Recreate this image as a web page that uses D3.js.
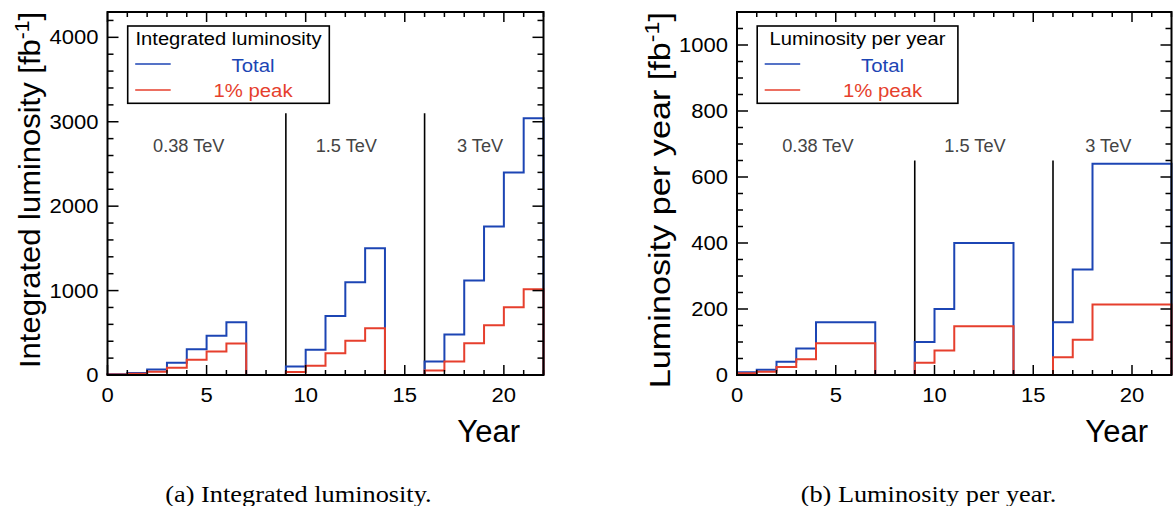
<!DOCTYPE html>
<html><head><meta charset="utf-8">
<script src="https://cdn.jsdelivr.net/npm/d3@7"></script>
<style>
body{margin:0;background:#fff}svg{display:block}
text.sans{font-family:"Liberation Sans",Arial,Helvetica,sans-serif}
text.serif{font-family:"Liberation Serif","Times New Roman",Times,serif}
</style>
</head><body>
<svg id="c" width="1173" height="506"></svg>
<script>
// ---------- data ----------
const binStart   = [0,1,2,3,4,5,6,7,8,9,10,11,12,13,14,15,16,17,18,19,20,21];
const intTotal   = [8,24,64,144,304,464,624,0,0,100,300,700,1100,1500,0,0,160,480,1120,1760,2400,3040];
const intPeak    = [5,14,38,86,182,278,374,0,0,37,111,259,407,555,0,0,54,161,375,589,803,1017];
const yearTotal  = [8,16,40,80,160,160,160,0,0,100,200,400,400,400,0,0,160,320,640,640,640,640];
const yearPeak   = [5,10,24,48,96,96,96,0,0,37,74,148,148,148,0,0,54,107,214,214,214,214];
const stageNames = ["0.38 TeV","1.5 TeV","3 TeV"];
const stageLabelX = [4.1, 12.05, 18.8];
const stageSepX  = [9, 16];
const xTickVals  = [0,5,10,15,20];
const yTicksA    = [0,1000,2000,3000,4000];
const yTicksB    = [0,200,400,600,800,1000];
const seriesNames = ["Total","1% peak"];

// ---------- style ----------
const BLUE = "#1c45b4", RED = "#e63f2d";
const svg = d3.select("#c");

function txt(g, o) {
  const t = g.append("text")
    .attr("class", o.serif ? "serif" : "sans")
    .attr("transform", `translate(${o.x},${o.y})` + (o.rot ? ` rotate(${o.rot})` : "") + ` scale(${o.k || 1},1)`)
    .attr("text-anchor", o.anchor || "start")
    .style("font-size", o.size + "px")
    .attr("fill", o.fill || "#000");
  if (o.text !== undefined) t.text(o.text);
  return t;
}

const panels = [
  { x0: 107.5, x1: 543.5, yMax: 4300, yMinor: 200, yTicks: yTicksA,
    total: intTotal, peak: intPeak, sepTop: 3100,
    legendTitle: "Integrated luminosity", legendW: 201.6,
    yTitle: "Integrated luminosity", titleX: 40, titleK: 1.05,
    caption: "(a) Integrated luminosity.", captionX: 298.5 },
  { x0: 737, x1: 1171.5, yMax: 1100, yMinor: 50, yTicks: yTicksB,
    total: yearTotal, peak: yearPeak, sepTop: 650,
    legendTitle: "Luminosity per year", legendW: 200.7,
    yTitle: "Luminosity per year", titleX: 669.5, titleK: 1.16,
    caption: "(b) Luminosity per year.", captionX: 928.5 }
];

const TOP = 12, BOT = 375;

panels.forEach(p => {
  const g = svg.append("g");
  const x = d3.scaleLinear().domain([0, 22]).range([p.x0, p.x1]);
  const y = d3.scaleLinear().domain([0, p.yMax]).range([BOT, TOP]);

  stageSepX.forEach(s => {
    g.append("line").attr("x1", x(s)).attr("x2", x(s)).attr("y1", y(p.sepTop)).attr("y2", y(0))
      .attr("stroke", "#000").attr("stroke-width", 1.6);
  });

  const line = d3.line().x(d => x(d[0])).y(d => y(d[1])).curve(d3.curveStepAfter);
  [[p.total, BLUE], [p.peak, RED]].forEach(([vals, col]) => {
    const pts = [[binStart[0], 0]];
    binStart.forEach((b, i) => pts.push([b, vals[i]]));
    pts.push([22, vals[vals.length - 1]]);
    pts.push([22, 0]);
    g.append("path").attr("d", line(pts)).attr("fill", "none")
      .attr("stroke", col).attr("stroke-width", 2).attr("stroke-linejoin", "miter");
  });

  stageNames.forEach((n, i) => {
    txt(g, { x: x(stageLabelX[i]), y: 151.7, text: n, size: 17.5, k: 1.04, anchor: "middle", fill: "#444" });
  });

  const tk = (x1, y1, x2, y2) => g.append("line").attr("x1", x1).attr("y1", y1).attr("x2", x2).attr("y2", y2)
      .attr("stroke", "#000").attr("stroke-width", 1.5);
  d3.range(0, p.yMax + 1e-6, p.yMinor).forEach(v => {
    const major = p.yTicks.includes(v);
    const L = major ? 11 : 6;
    tk(p.x0, y(v), p.x0 + L, y(v));
    tk(p.x1, y(v), p.x1 - L, y(v));
  });
  d3.range(0, 23, 1).forEach(v => {
    const major = xTickVals.includes(v);
    const L = major ? 10 : 5;
    tk(x(v), BOT, x(v), BOT - L);
    tk(x(v), TOP, x(v), TOP + L);
  });

  g.append("rect").attr("x", p.x0).attr("y", TOP).attr("width", p.x1 - p.x0).attr("height", BOT - TOP)
    .attr("fill", "none").attr("stroke", "#000").attr("stroke-width", 2);

  p.yTicks.forEach(v => {
    txt(g, { x: p.x0 - 9, y: y(v) + 7, text: String(v), size: 19.5, k: 1.13, anchor: "end" });
  });
  xTickVals.forEach(v => {
    txt(g, { x: x(v), y: 401.7, text: String(v), size: 19.5, k: 1.13, anchor: "middle" });
  });

  txt(g, { x: p.x1 - 23.5, y: 441.7, text: "Year", size: 31, k: 1.0, anchor: "end" });
  const yt = txt(g, { x: p.titleX, y: TOP, size: 29.5, k: p.titleK, anchor: "end", rot: -90 });
  yt.append("tspan").text(p.yTitle + " [fb");
  yt.append("tspan").style("font-size", "20px").attr("dy", -11).text("-1");
  yt.append("tspan").attr("dy", 11).text("]");

  const bx = p.x0 + 20.2, by = 26, bh = 77.3;
  g.append("rect").attr("x", bx).attr("y", by).attr("width", p.legendW).attr("height", bh)
    .attr("fill", "#fff").attr("stroke", "#000").attr("stroke-width", 1.6);
  txt(g, { x: bx + p.legendW / 2, y: 45, text: p.legendTitle, size: 18.5, k: 1.09, anchor: "middle" });
  [[seriesNames[0], BLUE, 64, 71.7], [seriesNames[1], RED, 90, 97.2]].forEach(([n, col, ly, ty]) => {
    g.append("line").attr("x1", bx + 7.5).attr("x2", bx + 43).attr("y1", ly).attr("y2", ly)
      .attr("stroke", col).attr("stroke-width", 1.6);
    txt(g, { x: bx + 125.3, y: ty, text: n, size: 18.5, k: 1.1, anchor: "middle", fill: col });
  });

  txt(svg, { x: p.captionX, y: 501.5, text: p.caption, size: 22.5, k: 1.17, anchor: "middle", serif: true });
});
</script>
</body></html>
